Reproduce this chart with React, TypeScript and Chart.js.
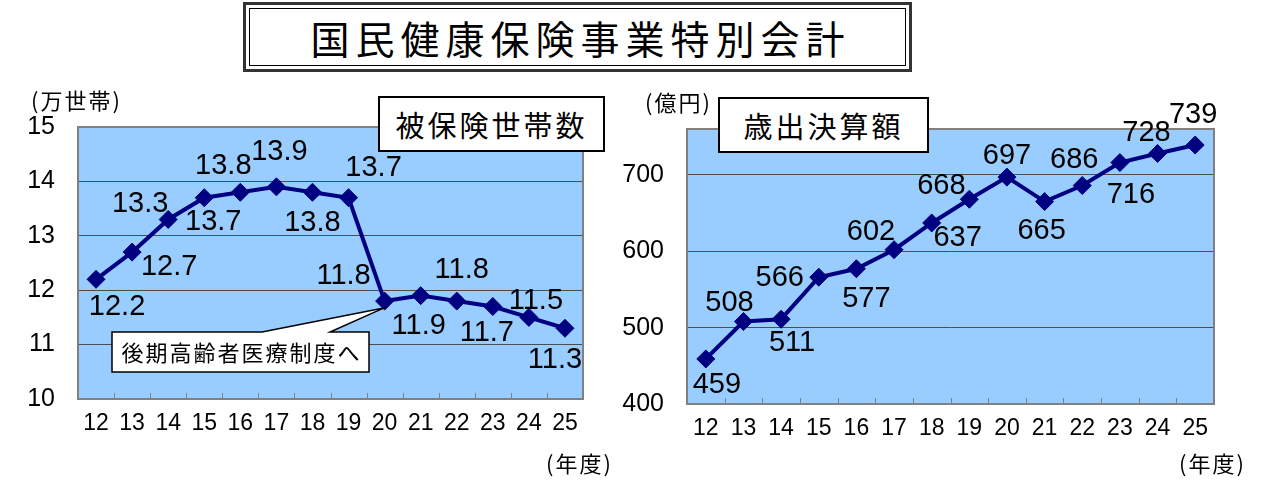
import React, { useEffect, useRef } from 'react';
import { Chart, registerables } from 'chart.js';

Chart.register(...registerables);

// ---- data ----
const years = ['12', '13', '14', '15', '16', '17', '18', '19', '20', '21', '22', '23', '24', '25'];
const households = [12.2, 12.7, 13.3, 13.7, 13.8, 13.9, 13.8, 13.7, 11.8, 11.9, 11.8, 11.7, 11.5, 11.3];
const expenditure = [459, 508, 511, 566, 577, 602, 637, 668, 697, 665, 686, 716, 728, 739];
const householdTicks = [10, 11, 12, 13, 14, 15];
const expenditureTicks = [400, 500, 600, 700];
const householdLabelOffsets = [
  [21, 28], [37, 15], [-28, -15], [9, 24], [-17, -26], [3, -35], [0, 31],
  [25, -30], [-41, -25], [-2, 30], [5, -31], [-6, 26], [7, -16], [-10, 32],
];
const expenditureLabelOffsets = [
  [11, 26], [-14, -19], [11, 24], [-39, 1], [10, 30], [-23, -18], [26, 15],
  [-28, -13], [0, -21], [-3, 29], [-8, -26], [11, 32], [-11, -20], [-2, -30],
];
const titleText = '国民健康保険事業特別会計';
const leftBoxText = '被保険世帯数';
const rightBoxText = '歳出決算額';
const leftUnit = '(万世帯)';
const rightUnit = '(億円)';
const xUnit = '(年度)';
const calloutText = '後期高齢者医療制度へ';
const calloutIndex = 8;

const NUM_FONT = '"Liberation Sans", Arial, sans-serif';
const CJK_FONT = '"Noto Sans CJK JP", "Noto Sans", sans-serif';
const LINE_COLOR = '#000080';
const PLOT_BG = '#99CCFF';

function makePlugin(labels: string[], offsets: number[][], callout: boolean) {
  return {
    id: 'custom' + Math.random().toString(36).slice(2),
    beforeDraw(chart: any) {
      const { ctx, chartArea: a } = chart;
      ctx.save();
      ctx.fillStyle = PLOT_BG;
      ctx.fillRect(a.left, a.top, a.right - a.left, a.bottom - a.top);
      ctx.restore();
    },
    afterDatasetsDraw(chart: any) {
      const { ctx, chartArea: a } = chart;
      const xs = chart.scales.x;
      const n = labels.length;
      ctx.save();
      // plot border
      ctx.strokeStyle = '#808080';
      ctx.lineWidth = 2;
      ctx.strokeRect(a.left, a.top, a.right - a.left, a.bottom - a.top);
      // inward tick marks at category boundaries
      const step = (xs.right - xs.left) / n;
      ctx.lineWidth = 1;
      ctx.beginPath();
      for (let i = 1; i < n; i++) {
        const x = Math.round(xs.left + i * step) + 0.5;
        ctx.moveTo(x, a.bottom);
        ctx.lineTo(x, a.bottom - 6);
      }
      ctx.stroke();
      // data labels
      const meta = chart.getDatasetMeta(0);
      ctx.fillStyle = '#000';
      ctx.font = `29px ${NUM_FONT}`;
      ctx.textAlign = 'center';
      ctx.textBaseline = 'middle';
      meta.data.forEach((pt: any, i: number) => {
        const [dx, dy] = offsets[i];
        ctx.fillText(labels[i], pt.x + dx, pt.y + dy);
      });
      // callout
      if (callout) {
        const pt = meta.data[calloutIndex];
        const bx0 = 112, bx1 = 369, by0 = 252, by1 = 292;
        ctx.beginPath();
        ctx.moveTo(bx0, by0);
        ctx.lineTo(262, by0);
        ctx.lineTo(pt.x - 1, pt.y + 7);
        ctx.lineTo(330, by0);
        ctx.lineTo(bx1, by0);
        ctx.lineTo(bx1, by1);
        ctx.lineTo(bx0, by1);
        ctx.closePath();
        ctx.fillStyle = '#fff';
        ctx.fill();
        ctx.strokeStyle = '#000';
        ctx.lineWidth = 1.5;
        ctx.stroke();
        ctx.fillStyle = '#000';
        ctx.font = `22px ${CJK_FONT}`;
        ctx.textAlign = 'center';
        ctx.textBaseline = 'middle';
        (ctx as any).letterSpacing = '2px';
        ctx.fillText(calloutText, (bx0 + bx1) / 2 + 1, (by0 + by1) / 2 + 1);
      }
      ctx.restore();
    },
  };
}

function buildConfig(
  values: number[],
  labels: string[],
  offsets: number[][],
  ticks: number[],
  min: number,
  max: number,
  padding: any,
  yWidth: number,
  xHeight: number,
  callout: boolean,
): any {
  return {
    type: 'line',
    data: {
      labels: years,
      datasets: [
        {
          data: values,
          borderColor: LINE_COLOR,
          backgroundColor: LINE_COLOR,
          borderWidth: 4,
          pointStyle: 'rectRot',
          pointRadius: 9,
          pointBorderWidth: 1,
          pointBackgroundColor: LINE_COLOR,
          pointBorderColor: LINE_COLOR,
          tension: 0,
          fill: false,
        },
      ],
    },
    options: {
      animation: false,
      responsive: false,
      maintainAspectRatio: false,
      events: [],
      layout: { padding },
      plugins: { legend: { display: false }, tooltip: { enabled: false } },
      scales: {
        x: {
          offset: true,
          grid: { display: false, drawTicks: false },
          border: { display: false },
          ticks: {
            color: '#000',
            font: { family: NUM_FONT, size: 23 },
            padding: 11,
            maxRotation: 0,
            autoSkip: false,
          },
          afterFit: (s: any) => { s.height = xHeight; },
        },
        y: {
          min,
          max,
          grid: { color: '#4d4d4d', lineWidth: 1, drawTicks: false },
          border: { display: false },
          ticks: {
            color: '#000',
            font: { family: NUM_FONT, size: 25 },
            padding: 23,
          },
          afterBuildTicks: (s: any) => { s.ticks = ticks.map((v) => ({ value: v })); },
          afterFit: (s: any) => { s.width = yWidth; },
        },
      },
    },
    plugins: [makePlugin(labels, offsets, callout)],
  };
}

function ChartCanvas(props: { config: () => any; style: React.CSSProperties; w: number; h: number }) {
  const ref = useRef<HTMLCanvasElement | null>(null);
  useEffect(() => {
    if (!ref.current) return;
    const chart = new Chart(ref.current, props.config());
    return () => chart.destroy();
  }, []);
  return (
    <div style={{ position: 'absolute', width: props.w, height: props.h, ...props.style }}>
      <canvas ref={ref} width={props.w} height={props.h} style={{ width: props.w, height: props.h, display: 'block' }} />
    </div>
  );
}

const boxStyle: React.CSSProperties = {
  position: 'absolute',
  boxSizing: 'border-box',
  background: '#fff',
  border: '2px solid #000',
  display: 'flex',
  alignItems: 'center',
  justifyContent: 'center',
  fontFamily: CJK_FONT,
  fontSize: 29,
  letterSpacing: 3,
  color: '#000',
};

const textStyle: React.CSSProperties = {
  position: 'absolute',
  fontFamily: CJK_FONT,
  color: '#000',
  whiteSpace: 'nowrap',
  lineHeight: 1,
};

export default function App() {
  return (
    <div style={{ position: 'absolute', left: 0, top: 0, width: 1271, height: 481, background: '#fff', overflow: 'hidden' }}>
      {/* title */}
      <div style={{ position: 'absolute', left: 243, top: 2, width: 669, height: 70, boxSizing: 'border-box', border: '3px solid #333' }}>
        <div
          style={{
            position: 'absolute', left: 3, top: 3, right: 3, bottom: 3,
            border: '1px solid #000', display: 'flex', alignItems: 'center', justifyContent: 'center',
            fontFamily: CJK_FONT, fontSize: 39, letterSpacing: 6, color: '#000',
          }}
        >
          <span style={{ marginLeft: 6 }}>{titleText}</span>
        </div>
      </div>

      <ChartCanvas
        w={620}
        h={401}
        style={{ left: 0, top: 80 }}
        config={() =>
          buildConfig(
            households,
            households.map((v) => v.toFixed(1)),
            householdLabelOffsets,
            householdTicks,
            10,
            15,
            { left: 0, right: 37, top: 47, bottom: 0 },
            78,
            82,
            true,
          )
        }
      />
      <ChartCanvas
        w={651}
        h={401}
        style={{ left: 620, top: 80 }}
        config={() =>
          buildConfig(
            expenditure,
            expenditure.map((v) => String(v)),
            expenditureLabelOffsets,
            expenditureTicks,
            400,
            760,
            { left: 0, right: 57, top: 49, bottom: 0 },
            67,
            77,
            false,
          )
        }
      />

      {/* unit labels */}
      <div style={{ ...textStyle, left: 31, top: 88, fontSize: 22, letterSpacing: 2 }}>{leftUnit}</div>
      <div style={{ ...textStyle, left: 645, top: 90, fontSize: 22, letterSpacing: 2 }}>{rightUnit}</div>
      <div style={{ ...textStyle, left: 546, top: 451, fontSize: 22, letterSpacing: 2 }}>{xUnit}</div>
      <div style={{ ...textStyle, left: 1179, top: 451, fontSize: 22, letterSpacing: 2 }}>{xUnit}</div>

      {/* subtitle boxes */}
      <div style={{ ...boxStyle, left: 378, top: 96, width: 227, height: 56 }}>{leftBoxText}</div>
      <div style={{ ...boxStyle, left: 718, top: 97, width: 211, height: 56 }}>{rightBoxText}</div>
    </div>
  );
}
